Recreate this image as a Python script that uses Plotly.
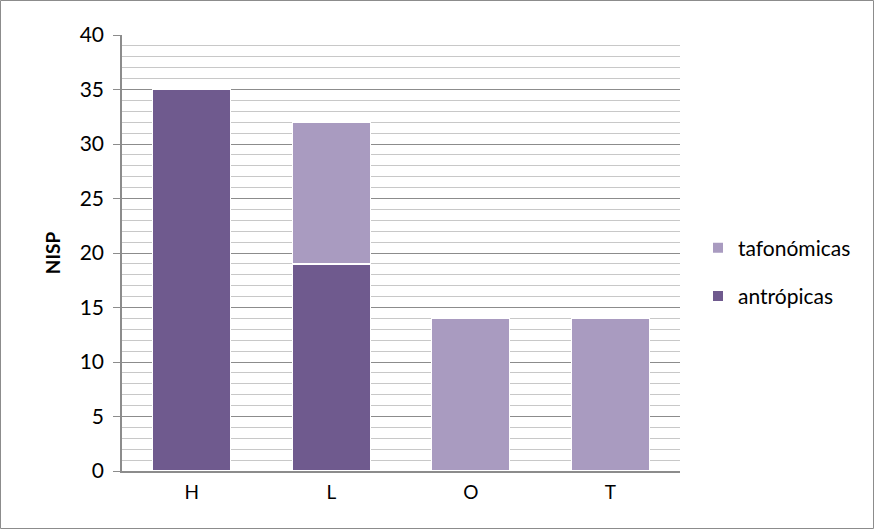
import plotly.graph_objects as go

# Categories and NISP counts per modification type
categorias = ["H", "L", "O", "T"]
antropicas = [35, 19, 0, 0]
tafonomicas = [0, 13, 14, 14]

color_antropicas = "#6F5A8E"
color_tafonomicas = "#A99BC0"

W, H = 874, 529
L_M, R_M, T_M, B_M = 122, 194, 35, 58
pw, ph = W - L_M - R_M, H - T_M - B_M

fig = go.Figure()
fig.add_trace(go.Bar(
    x=categorias, y=antropicas, name="antrópicas",
    legendgroup="a", legendrank=2,
    marker=dict(color=color_antropicas, line=dict(color="white", width=1.2)),
))
fig.add_trace(go.Bar(
    x=categorias, y=tafonomicas, name="tafonómicas",
    legendgroup="t", legendrank=1,
    marker=dict(color=color_tafonomicas, line=dict(color="white", width=1.2)),
))

fig.update_layout(
    width=W, height=H,
    margin=dict(l=L_M, r=R_M, t=T_M, b=B_M),
    barmode="stack",
    bargap=0.44,
    plot_bgcolor="white",
    paper_bgcolor="white",
    font=dict(family="Lato, Liberation Sans, sans-serif", size=20, color="#000000"),
    legend=dict(
        x=(698 - L_M) / pw, y=1 - (272 - T_M) / ph,
        xanchor="left", yanchor="middle",
        traceorder="grouped",
        tracegroupgap=18,
        font=dict(size=21),
        itemwidth=30,
        itemsizing="constant",
    ),
    showlegend=True,
    yaxis=dict(
        range=[0, 40],
        dtick=5,
        showgrid=True,
        gridcolor="#8C8C8C",
        gridwidth=1,
        minor=dict(dtick=1, showgrid=True, gridcolor="#C8C8C8", gridwidth=1),
        showline=True, linecolor="#8C8C8C", linewidth=1.5,
        ticks="outside", ticklen=7, tickcolor="#8C8C8C",
        ticklabelstandoff=5,
        zeroline=False,
        title=dict(text="<b>NISP</b>", font=dict(size=19), standoff=14),
        tickfont=dict(size=21),
    ),
    xaxis=dict(
        showline=True, linecolor="#8C8C8C", linewidth=1.5,
        ticks="", showgrid=False,
        ticklabelstandoff=3,
        tickfont=dict(size=19),
    ),
    shapes=[dict(
        type="rect", xref="paper", yref="paper",
        x0=(-L_M + 0.5) / pw, x1=1 + (R_M - 0.5) / pw,
        y0=(-B_M + 0.5) / ph, y1=1 + (T_M - 0.5) / ph,
        line=dict(color="#8C8C8C", width=1),
        fillcolor="rgba(0,0,0,0)",
    )],
)

fig.write_html("out.html")
